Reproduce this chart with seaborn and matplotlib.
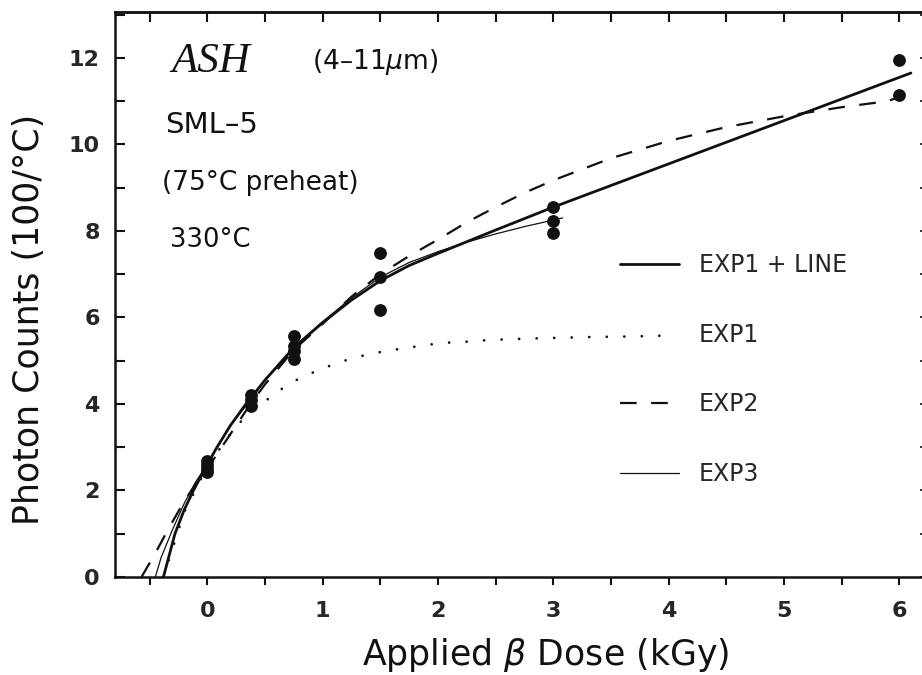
import matplotlib
matplotlib.use("Agg")
import matplotlib.pyplot as plt
import seaborn as sns
from matplotlib.lines import Line2D
from matplotlib.ticker import MultipleLocator

# measured points: applied beta dose (kGy) vs photon counts (100/°C)
dose_pts = [0, 0, 0, 0, 0.375, 0.375, 0.375, 0.75, 0.75, 0.75, 0.75,
            1.5, 1.5, 1.5, 3, 3, 3, 6, 6]
count_pts = [2.68, 2.58, 2.5, 2.42, 4.2, 4.1, 3.95, 5.58, 5.35, 5.22, 5.03,
             7.48, 6.94, 6.17, 8.55, 8.24, 7.95, 11.95, 11.14]

# fitted curves
exp1_line_x = [-0.38, -0.33, -0.28, -0.2, -0.12, 0, 0.08, 0.2, 0.33, 0.5, 0.75,
               1.0, 1.25, 1.5, 1.75, 2.0, 2.5, 3.0, 4.0, 5.0, 6.0, 6.1]
exp1_line_y = [0, 0.5, 1.0, 1.55, 2.0, 2.6, 2.98, 3.5, 3.98, 4.55, 5.3,
               5.88, 6.4, 6.85, 7.2, 7.48, 8.02, 8.55, 9.55, 10.55, 11.55, 11.65]

exp1_x = [-0.38, -0.2, 0, 0.17, 0.27, 0.375, 0.52, 0.64, 0.77, 0.91, 1.05, 1.19,
          1.34, 1.5, 1.64, 1.79, 1.95, 2.1, 2.25, 2.4, 2.56, 2.76, 3.06, 3.37,
          3.67, 3.98]
exp1_y = [0, 1.5, 2.55, 3.2, 3.54, 3.8, 4.1, 4.34, 4.55, 4.72, 4.87, 5.0,
          5.11, 5.2, 5.26, 5.32, 5.38, 5.42, 5.44, 5.47, 5.49, 5.51, 5.53, 5.55,
          5.56, 5.58]

exp2_x = [-0.57, -0.45, -0.35, -0.2, -0.1, 0, 0.2, 0.375, 0.5, 0.75, 1.0, 1.25,
          1.5, 1.75, 2.0, 2.25, 2.5, 2.75, 3.0, 3.5, 4.0, 4.5, 5.0, 5.5, 5.9, 6.0]
exp2_y = [0, 0.55, 1.05, 1.75, 2.15, 2.5, 3.3, 4.0, 4.45, 5.25, 5.85, 6.48,
          7.0, 7.42, 7.8, 8.2, 8.55, 8.88, 9.17, 9.68, 10.08, 10.4, 10.65, 10.86,
          11.0, 11.1]

exp3_x = [-0.45, -0.4, -0.3, -0.2, -0.1, 0, 0.2, 0.375, 0.5, 0.75, 1.0, 1.25,
          1.5, 1.75, 2.0, 2.25, 2.5, 2.75, 3.0, 3.08]
exp3_y = [0, 0.45, 1.1, 1.7, 2.2, 2.6, 3.5, 4.1, 4.55, 5.32, 5.9, 6.45,
          6.93, 7.27, 7.52, 7.74, 7.93, 8.1, 8.25, 8.3]

x_ticks = [0, 1, 2, 3, 4, 5, 6]
y_ticks = [0, 2, 4, 6, 8, 10, 12]

ink = "#111111"
dash_style = (0, (7.5, 6.5))

sns.set_style("ticks")
plt.rcParams["font.family"] = ["DejaVu Sans"]
plt.rcParams["mathtext.fontset"] = "dejavusans"

fig = plt.figure(figsize=(9.22, 6.75), dpi=100)
ax = fig.add_axes([0.1247, 0.1452, 0.8783, 0.837])

sns.lineplot(x=exp1_line_x, y=exp1_line_y, ax=ax, color=ink, lw=2.0,
             estimator=None)
sns.lineplot(x=exp1_x, y=exp1_y, ax=ax, color=ink, lw=2.0,
             linestyle=(0, (0.01, 6.3)), dash_capstyle="round", estimator=None)
sns.lineplot(x=exp2_x, y=exp2_y, ax=ax, color=ink, lw=1.6,
             linestyle=dash_style, estimator=None)
sns.lineplot(x=exp3_x, y=exp3_y, ax=ax, color=ink, lw=0.9, estimator=None)
sns.scatterplot(x=dose_pts, y=count_pts, ax=ax, color=ink, s=85,
                linewidth=0, zorder=4)

ax.set_xlim(-0.8, 6.22)
ax.set_ylim(0, 13.06)

ax.set_xticks(x_ticks, [str(v) for v in x_ticks], fontweight="bold", fontsize=16)
ax.set_yticks(y_ticks, [str(v) for v in y_ticks], fontweight="bold", fontsize=16)
ax.xaxis.set_minor_locator(MultipleLocator(0.5))
ax.yaxis.set_minor_locator(MultipleLocator(1))
ax.tick_params(axis="x", which="both", direction="out", length=6, width=1.5,
               color=ink, pad=11, top=False)
ax.tick_params(axis="y", which="both", direction="in", length=7, width=1.5,
               color=ink, pad=11, left=True, right=False)

top = ax.secondary_xaxis("top")
top.xaxis.set_major_locator(MultipleLocator(1))
top.xaxis.set_minor_locator(MultipleLocator(0.5))
top.tick_params(axis="x", which="both", direction="in", length=7, width=1.5,
                color=ink, labeltop=False)
top.spines["top"].set_linewidth(1.8)

right = ax.secondary_yaxis("right")
right.yaxis.set_major_locator(MultipleLocator(2))
right.yaxis.set_minor_locator(MultipleLocator(1))
right.tick_params(axis="y", which="both", direction="in", length=3.5, width=1.2,
                  color=ink, labelright=False)
right.spines["right"].set_visible(False)

for side in ["left", "bottom", "top"]:
    ax.spines[side].set_linewidth(1.8)
    ax.spines[side].set_color(ink)
ax.spines["right"].set_visible(False)

ax.set_xlabel(r"Applied $\beta$ Dose (kGy)", fontsize=25, color=ink)
ax.set_ylabel("Photon Counts (100/°C)", fontsize=25, color=ink)
ax.xaxis.set_label_coords(0.532, -0.105)
ax.yaxis.set_label_coords(-0.085, 0.455)

ax.text(-0.31, 11.9, "ASH", fontsize=31, style="italic",
        family="Liberation Serif", ha="left", va="center", color=ink)
ax.text(0.91, 11.9, r"(4–11$\mu$m)", fontsize=19, ha="left", va="center", color=ink)
ax.text(-0.365, 10.45, "SML–5", fontsize=21, ha="left", va="center", color=ink)
ax.text(-0.39, 9.11, "(75°C preheat)", fontsize=19, ha="left", va="center", color=ink)
ax.text(-0.32, 7.79, "330°C", fontsize=18.5, ha="left", va="center", color=ink)

# the dotted EXP1 curve itself ends beside its label, so its key has no sample
handles = [Line2D([], [], color=ink, lw=2.0),
           Line2D([], [], linestyle="none"),
           Line2D([], [], color=ink, lw=1.6, linestyle=dash_style),
           Line2D([], [], color=ink, lw=0.9)]
labels = ["EXP1 + LINE", "EXP1", "EXP2", "EXP3"]
ax.legend(handles, labels, loc="upper left", bbox_to_anchor=(0.6235, 0.573),
          frameon=False, fontsize=17, labelspacing=1.93, handlelength=2.5,
          handletextpad=0.85, borderpad=0, borderaxespad=0)

fig.savefig("out.png", dpi=100)
